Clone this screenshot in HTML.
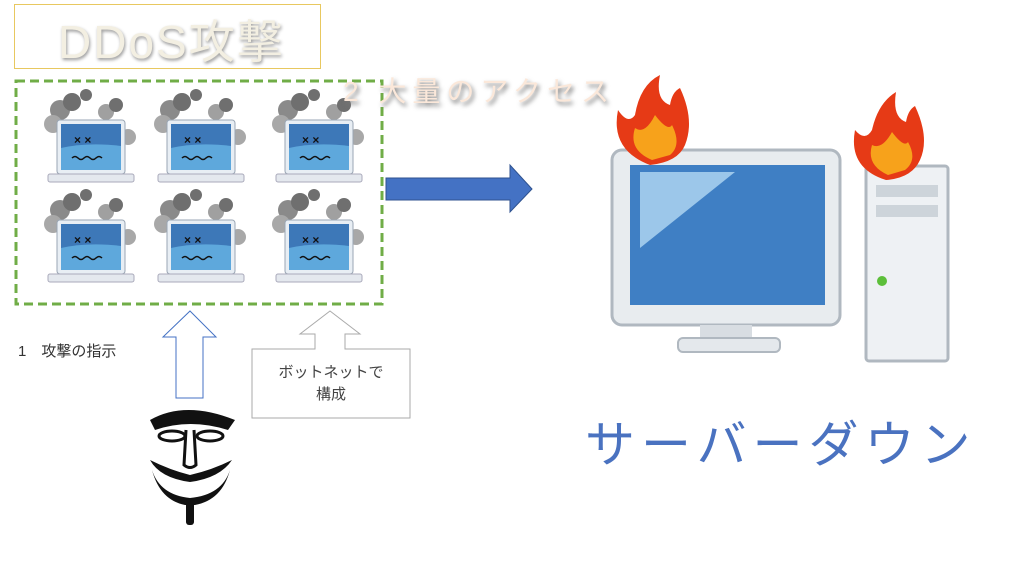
<!DOCTYPE html>
<html><head><meta charset="utf-8"><style>
body{margin:0;width:1024px;height:576px;background:#fff;overflow:hidden;position:relative;font-family:"Liberation Sans","Noto Sans CJK JP",sans-serif}
.t{position:absolute;white-space:nowrap}
</style></head><body>
<svg width="1024" height="576" style="position:absolute;left:0;top:0">
<defs>
<g id="lap">
 <circle cx="12" cy="18" r="10" fill="#8a8a8a"/><circle cx="24" cy="10" r="9" fill="#6f6f6f"/><circle cx="5" cy="32" r="9" fill="#a8a8a8"/>
 <circle cx="38" cy="3" r="6" fill="#6f6f6f"/><circle cx="58" cy="20" r="8" fill="#a0a0a0"/><circle cx="68" cy="13" r="7" fill="#6f6f6f"/><circle cx="80" cy="45" r="8" fill="#a8a8a8"/>
 <rect x="9" y="28" width="68" height="54" rx="3" fill="#e8eef4" stroke="#9aa6b4"/>
 <rect x="13" y="32" width="60" height="46" fill="#3d78b8"/>
 <path d="M13 56 Q40 50 73 54 V78 H13Z" fill="#5ea8dc"/>
 <text x="26" y="52" font-size="12" font-weight="bold" fill="#111">× ×</text>
 <path d="M24 66 q3 -3 6 0 t6 0 t6 0 t6 0 t6 0" stroke="#111" fill="none" stroke-width="1.5"/>
 <rect x="0" y="82" width="86" height="8" rx="2" fill="#e4e8ee" stroke="#aab"/>
</g>
</defs>
<rect x="14.5" y="4.5" width="306" height="64" fill="#fff" stroke="#e8c860"/>
<rect x="16" y="81" width="366" height="223" fill="none" stroke="#70ad47" stroke-width="3" stroke-dasharray="9,5"/>
<use href="#lap" x="48" y="92"/><use href="#lap" x="158" y="92"/><use href="#lap" x="276" y="92"/>
<use href="#lap" x="48" y="192"/><use href="#lap" x="158" y="192"/><use href="#lap" x="276" y="192"/>
<polygon points="386,178 510,178 510,165 532,189 510,212 510,200 386,200" fill="#4472c4" stroke="#2f528f"/>
<polygon points="190,311 216,337 203,337 203,398 176,398 176,337 163,337" fill="#fff" stroke="#4472c4"/>
<polygon points="330,311 360,334 345,334 345,349 410,349 410,418 252,418 252,349 315,349 315,334 300,334" fill="#fff" stroke="#aaa"/>
<g fill="#111">
 <path d="M150 420 Q185 400 235 420 L228 430 Q190 418 155 430Z"/>
 <ellipse cx="172" cy="436" rx="13" ry="5" fill="none" stroke="#111" stroke-width="3"/>
 <ellipse cx="210" cy="436" rx="13" ry="5" fill="none" stroke="#111" stroke-width="3"/>
 <path d="M186 430 L184 465 Q190 470 196 465 L194 430" fill="none" stroke="#111" stroke-width="3"/>
 <path d="M150 460 Q170 470 190 475 Q212 470 232 460 Q220 478 190 482 Q160 478 150 460Z"/>
 <path d="M152 470 Q160 500 185 505 L195 505 Q222 500 230 470 Q222 495 190 498 Q160 495 152 470Z"/>
 <rect x="186" y="498" width="8" height="27" rx="3"/>
</g>
<rect x="612" y="150" width="228" height="175" rx="10" fill="#e8ecef" stroke="#b0b8c0" stroke-width="3"/>
<rect x="630" y="165" width="195" height="140" fill="#3f7fc4"/>
<polygon points="640,172 735,172 640,248" fill="#9cc7ea"/>
<rect x="700" y="325" width="52" height="18" fill="#d8dde2"/>
<rect x="678" y="338" width="102" height="14" rx="5" fill="#e4e8ec" stroke="#b0b8c0" stroke-width="2"/>
<rect x="866" y="166" width="82" height="195" rx="3" fill="#eef1f4" stroke="#b0b8c0" stroke-width="3"/>
<rect x="876" y="185" width="62" height="12" fill="#cdd4da"/><rect x="876" y="205" width="62" height="12" fill="#cdd4da"/>
<circle cx="882" cy="281" r="5" fill="#5cbf3a"/>
<g>
 <path d="M650 165 Q610 150 618 110 Q628 125 635 115 Q640 85 660 75 Q655 100 670 105 Q672 92 680 88 Q695 120 685 145 Q678 162 650 165Z" fill="#e63a16"/>
 <path d="M652 160 Q628 150 635 128 Q645 135 655 115 Q668 132 672 125 Q682 145 670 155Z" fill="#f7a21b"/>
 <path d="M886 180 Q848 168 855 130 Q865 142 872 130 Q878 103 896 92 Q892 117 906 122 Q908 110 915 106 Q930 138 920 160 Q912 178 886 180Z" fill="#e63a16"/>
 <path d="M888 175 Q866 165 872 145 Q882 150 892 132 Q904 148 908 142 Q918 160 905 170Z" fill="#f7a21b"/>
</g>
</svg>
<div class="t" style="left:58px;top:6px;font-size:46px;color:#f3efe2;text-shadow:1px 2px 3px #999;letter-spacing:2px">DDoS攻撃</div>
<div class="t" style="left:343px;top:70px;font-size:28px;color:#fbe8da;text-shadow:2px 3px 5px #777;letter-spacing:6px">2 大量のアクセス</div>
<div class="t" style="left:18px;top:340px;font-size:15px;color:#333">1　攻撃の指示</div>
<div class="t" style="left:252px;top:362px;width:158px;text-align:center;font-size:15px;line-height:22px;color:#444">ボットネットで<br>構成</div>
<div class="t" style="left:585px;top:405px;font-size:50px;color:#4a72c0;letter-spacing:6px">サーバーダウン</div>
</body></html>
